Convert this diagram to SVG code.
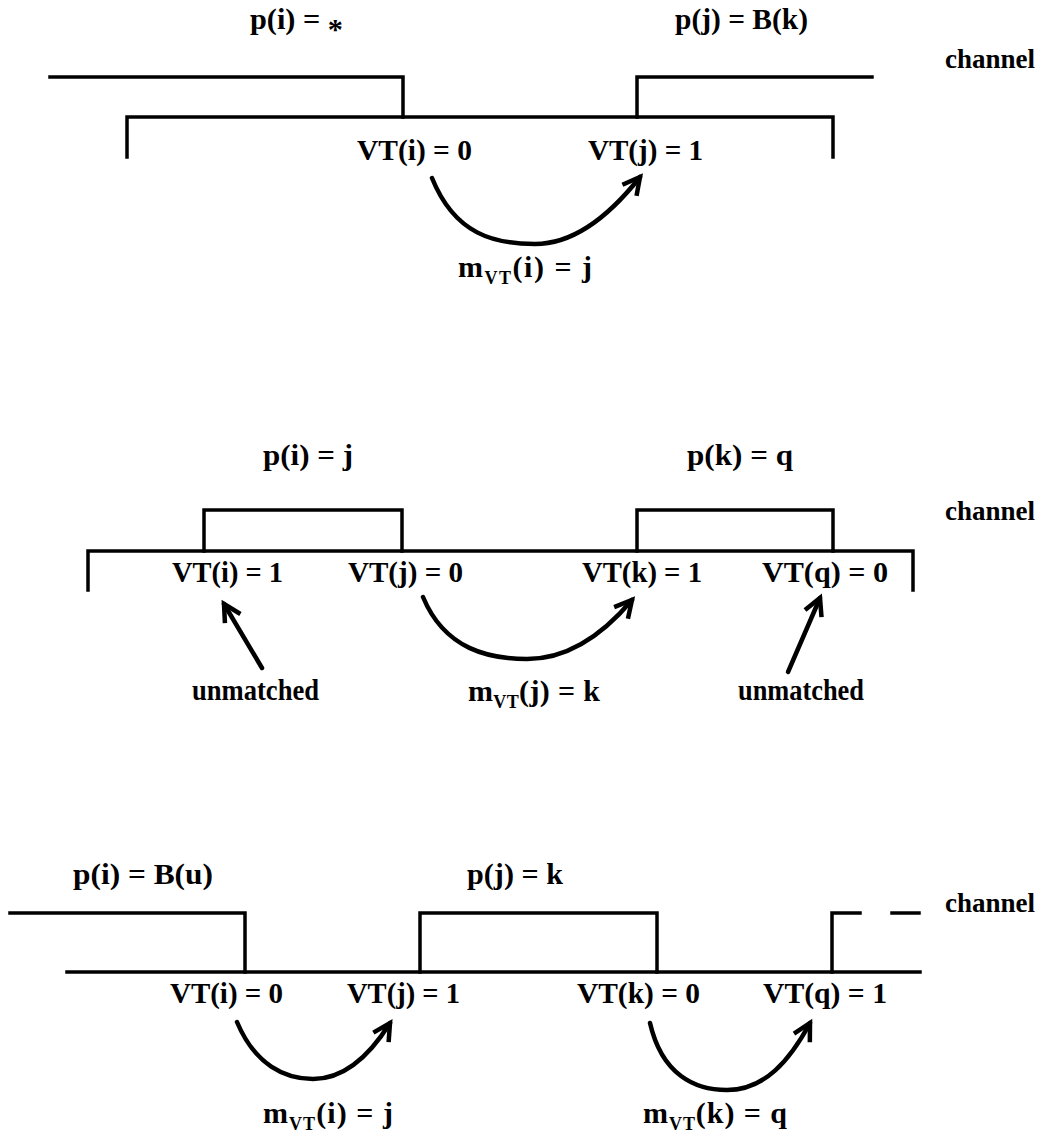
<svg xmlns="http://www.w3.org/2000/svg" width="1044" height="1140" viewBox="0 0 1044 1140">
<style>
  text { font-family: "Liberation Serif", "Times New Roman", serif; font-weight: bold; font-size: 30px; fill: #000; }
  .sub { font-size: 18px; }
  .ch { font-size: 27px; }
  .line { fill: none; stroke: #000; stroke-width: 3.5; stroke-linecap: square; stroke-linejoin: miter; }
  .arc { fill: none; stroke: #000; stroke-width: 4.5; stroke-linecap: round; }
</style>
<defs>
  <marker id="ah" markerUnits="userSpaceOnUse" viewBox="-22 -14 26 28" refX="0" refY="0" markerWidth="26" markerHeight="28" orient="auto" overflow="visible">
    <path d="M-17,-9 L0,0 L-17,9" fill="none" stroke="#000" stroke-width="4.5" stroke-linejoin="miter"/>
  </marker>
</defs>
<rect width="1044" height="1140" fill="#fff"/>

<!-- Panel 1 -->
<g id="panel1">
  <g id="p1-signal">
    <polyline class="line" points="50,77 403,77 403,117"/>
    <polyline class="line" points="637,117 637,77 872,77"/>
    <polyline class="line" points="127,157 127,117 833,117 833,157"/>
  </g>
  <g id="p1-labels">
    <text x="250" y="29" textLength="93" lengthAdjust="spacingAndGlyphs">p(i) = <tspan dy="10">*</tspan></text>
    <text x="675" y="29" textLength="133" lengthAdjust="spacingAndGlyphs">p(j) = B(k)</text>
    <text class="ch" x="945" y="68">channel</text>
    <text x="357" y="160" textLength="115" lengthAdjust="spacingAndGlyphs">VT(i) = 0</text>
    <text x="588" y="160" textLength="115" lengthAdjust="spacingAndGlyphs">VT(j) = 1</text>
    <text x="458" y="277" textLength="134" lengthAdjust="spacing">m<tspan class="sub" dy="7">VT</tspan><tspan dy="-7">(i) = j</tspan></text>
  </g>
</g>

<!-- Panel 2 -->
<g id="panel2">
  <g id="p2-signal">
    <polyline class="line" points="204,551 204,510 402,510 402,551"/>
    <polyline class="line" points="637,551 637,510 833,510 833,551"/>
    <polyline class="line" points="88,590 88,551 913,551 913,590"/>
  </g>
  <g id="p2-labels">
    <text x="263" y="465" textLength="90" lengthAdjust="spacingAndGlyphs">p(i) = j</text>
    <text x="687" y="465" textLength="106" lengthAdjust="spacingAndGlyphs">p(k) = q</text>
    <text class="ch" x="945" y="520">channel</text>
    <text x="172" y="582" textLength="111" lengthAdjust="spacingAndGlyphs">VT(i) = 1</text>
    <text x="348" y="582" textLength="115" lengthAdjust="spacingAndGlyphs">VT(j) = 0</text>
    <text x="582" y="582" textLength="120" lengthAdjust="spacingAndGlyphs">VT(k) = 1</text>
    <text x="762" y="582" textLength="126" lengthAdjust="spacingAndGlyphs">VT(q) = 0</text>
    <text x="192" y="700" textLength="127" lengthAdjust="spacingAndGlyphs">unmatched</text>
    <text x="468" y="701" textLength="132" lengthAdjust="spacing">m<tspan class="sub" dy="7">VT</tspan><tspan dy="-7">(j) = k</tspan></text>
    <text x="738" y="700" textLength="126" lengthAdjust="spacingAndGlyphs">unmatched</text>
  </g>
</g>

<!-- Panel 3 -->
<g id="panel3">
  <g id="p3-signal">
    <polyline class="line" points="10,913 245,913 245,972"/>
    <polyline class="line" points="420,972 420,913 657,913 657,972"/>
    <polyline class="line" points="832,972 832,913 860,913"/>
    <line class="line" x1="892" y1="913" x2="919" y2="913"/>
    <line class="line" x1="67" y1="972" x2="920" y2="972"/>
  </g>
  <g id="p3-labels">
    <text x="73" y="884" textLength="140" lengthAdjust="spacingAndGlyphs">p(i) = B(u)</text>
    <text x="467" y="884" textLength="96" lengthAdjust="spacingAndGlyphs">p(j) = k</text>
    <text class="ch" x="945" y="912">channel</text>
    <text x="170" y="1003" textLength="113" lengthAdjust="spacingAndGlyphs">VT(i) = 0</text>
    <text x="347" y="1003" textLength="113" lengthAdjust="spacingAndGlyphs">VT(j) = 1</text>
    <text x="577" y="1003" textLength="123" lengthAdjust="spacingAndGlyphs">VT(k) = 0</text>
    <text x="763" y="1003" textLength="124" lengthAdjust="spacingAndGlyphs">VT(q) = 1</text>
    <text x="263" y="1123" textLength="130" lengthAdjust="spacing">m<tspan class="sub" dy="7">VT</tspan><tspan dy="-7">(i) = j</tspan></text>
    <text x="643" y="1123" textLength="144" lengthAdjust="spacing">m<tspan class="sub" dy="7">VT</tspan><tspan dy="-7">(k) = q</tspan></text>
  </g>
</g>

<!-- Connectors -->
<g id="connectors">
  <path class="arc" marker-end="url(#ah)" d="M432,178 C455,235 495,244 535,244 C575,244 610,215 640,177"/>
  <path class="arc" marker-end="url(#ah)" d="M423,597 C445,650 490,659 527,659 C570,659 605,632 632,600"/>
  <path class="arc" marker-end="url(#ah)" d="M262,668 L224,604"/>
  <path class="arc" marker-end="url(#ah)" d="M788,672 L820,598"/>
  <path class="arc" marker-end="url(#ah)" d="M237,1022 C255,1065 285,1079 313,1079 C345,1079 370,1055 390,1023"/>
  <path class="arc" marker-end="url(#ah)" d="M650,1023 C662,1075 695,1090 727,1090 C765,1090 790,1060 810,1023"/>
</g>
</svg>
